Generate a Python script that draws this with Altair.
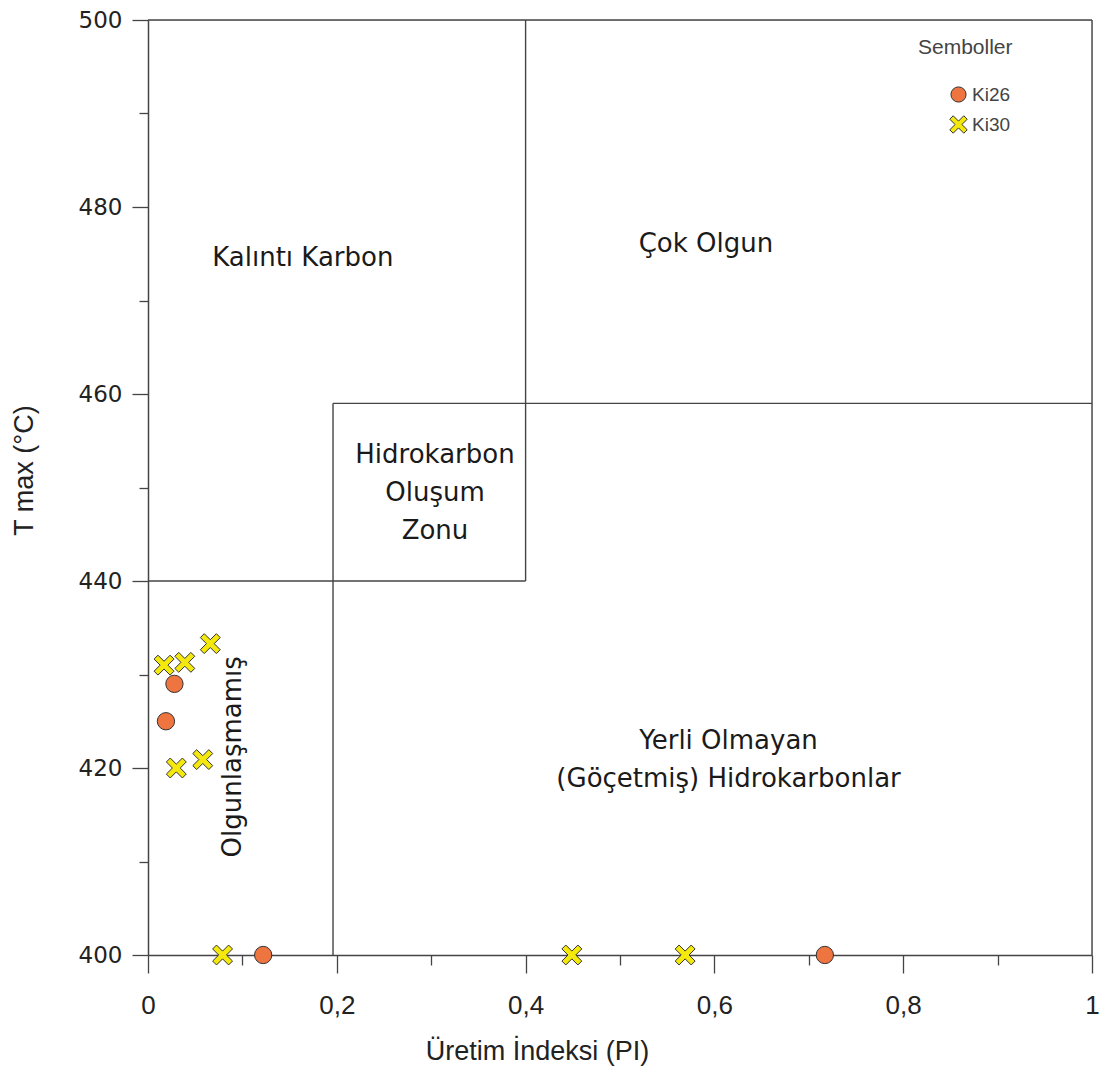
import altair as alt
import pandas as pd

# ---- data ----
ki26_pi = [0.028, 0.019, 0.122, 0.717]
ki26_tmax = [429.0, 425.0, 400.0, 400.0]
ki30_pi = [0.017, 0.039, 0.066, 0.030, 0.058, 0.079, 0.449, 0.569]
ki30_tmax = [431.0, 431.3, 433.3, 420.0, 420.9, 400.0, 400.0, 400.0]
series_names = ["Ki26", "Ki30"]

# zone boundary segments (data units)
seg_x1 = [0.0, 1.0, 0.4, 0.0, 0.196, 0.196]
seg_x2 = [1.0, 1.0, 0.4, 0.4, 1.0, 0.196]
seg_y1 = [500, 400, 440, 440, 459, 400]
seg_y2 = [500, 500, 500, 440, 459, 459]

# zone labels (anchor = first line of each label)
zone_labels = ["Kalıntı Karbon", "Çok Olgun", "Hidrokarbon\nOluşum\nZonu",
               "Yerli Olmayan\n(Göçetmiş) Hidrokarbonlar"]
zone_x = [0.164, 0.591, 0.304, 0.615]
zone_y = [474.5, 476.0, 453.5, 422.9]

vert_label = ["Olgunlaşmamış"]
vert_x = [0.090]
vert_y = [421.2]

x_ticks = [round(i * 0.1, 1) for i in range(11)]
y_ticks = list(range(400, 501, 10))

# ---- tables ----
pts = pd.DataFrame({
    "PI": ki26_pi + ki30_pi,
    "Tmax": ki26_tmax + ki30_tmax,
    "Seri": [series_names[0]] * len(ki26_pi) + [series_names[1]] * len(ki30_pi),
    "ord": [0] * len(ki26_pi) + [1] * len(ki30_pi),
})
segs = pd.DataFrame({"x1": seg_x1, "x2": seg_x2, "y1": seg_y1, "y2": seg_y2})
labs = pd.DataFrame({"t": zone_labels, "x": zone_x, "y": zone_y})
vlab = pd.DataFrame({"t": vert_label, "x": vert_x, "y": vert_y})

xs = alt.Scale(domain=[0, 1], nice=False, zero=False)
ys = alt.Scale(domain=[400, 500], nice=False, zero=False)

x_axis = alt.Axis(
    values=x_ticks, grid=False,
    labelExpr="round(datum.value*10) % 2 === 0 ? replace(format(datum.value, '.1~f'), '.', ',') : ''",
    tickSize={"condition": {"test": "round(datum.value*10) % 2 === 0", "value": 18}, "value": 10},
    tickColor="#444", domainColor="#444", tickWidth=1.3, domainWidth=1.5,
    labelFont="Liberation Sans", labelFontSize=26, labelColor="#222",
    labelPadding=19, labelFlush=False,
    title="Üretim İndeksi (PI)", titleFont="Liberation Sans", titleFontSize=27,
    titleFontWeight="normal", titleColor="#222", titlePadding=20, titleX=389,
)
y_axis = alt.Axis(
    values=y_ticks, grid=False,
    labelExpr="datum.value % 20 === 0 ? datum.value : ''",
    tickSize={"condition": {"test": "datum.value % 20 === 0", "value": 16}, "value": 9},
    tickColor="#444", domainColor="#444", tickWidth=1.3, domainWidth=1.5,
    labelFont="DejaVu Sans", labelFontSize=23, labelColor="#222",
    labelPadding=10, labelFlush=False,
    title="T max (°C)", titleFont="Liberation Sans", titleFontSize=27,
    titleFontWeight="normal", titleColor="#222", titlePadding=40, titleY=450,
)

rules = alt.Chart(segs).mark_rule(color="#444", strokeWidth=1.4).encode(
    x=alt.X("x1:Q", scale=xs, axis=x_axis),
    x2="x2:Q",
    y=alt.Y("y1:Q", scale=ys, axis=y_axis),
    y2="y2:Q",
)

xpath = ("M-1.15,-0.7L-0.7,-1.15L0,-0.45L0.7,-1.15L1.15,-0.7L0.45,0L1.15,0.7"
         "L0.7,1.15L0,0.45L-0.7,1.15L-1.15,0.7L-0.45,0Z")

legend = alt.Legend(title="Semboller", orient="none", legendX=770, legendY=17,
                    titleFont="Liberation Sans", titleFontSize=21,
                    titleFontWeight="normal", titleColor="#444",
                    titlePadding=27,
                    labelFont="Liberation Sans", labelFontSize=19,
                    labelColor="#444", symbolSize=230,
                    symbolStrokeColor="#333", symbolStrokeWidth=1,
                    symbolOffset=31, rowPadding=8)

points = alt.Chart(pts).mark_point(filled=True, size=300, stroke="#333",
                                   strokeWidth=1, opacity=1).encode(
    x=alt.X("PI:Q", scale=xs),
    y=alt.Y("Tmax:Q", scale=ys),
    color=alt.Color("Seri:N", scale=alt.Scale(domain=series_names,
                                               range=["#EE7540", "#F4E80C"]),
                    legend=legend),
    shape=alt.Shape("Seri:N", scale=alt.Scale(domain=series_names,
                                               range=["circle", xpath]),
                    legend=legend),
    order=alt.Order("ord:Q"),
)

text_main = alt.Chart(labs).mark_text(font="DejaVu Sans", fontSize=26,
                                      color="#1a1a1a", lineBreak="\n",
                                      lineHeight=38, align="center",
                                      baseline="middle").encode(
    x=alt.X("x:Q", scale=xs), y=alt.Y("y:Q", scale=ys), text="t:N")

text_vert = alt.Chart(vlab).mark_text(font="DejaVu Sans", fontSize=26,
                                      color="#1a1a1a", angle=270, align="center",
                                      baseline="middle").encode(
    x=alt.X("x:Q", scale=xs), y=alt.Y("y:Q", scale=ys), text="t:N")

chart = alt.layer(rules, text_main, text_vert, points).properties(
    width=944, height=935,
    autosize=alt.AutoSizeParams(type="none"),
    padding={"left": 140, "top": 12, "right": 7, "bottom": 112},
).configure_view(stroke=None).configure(background="white")

chart.save("out.html", embed_options={"renderer": "svg", "actions": False})
